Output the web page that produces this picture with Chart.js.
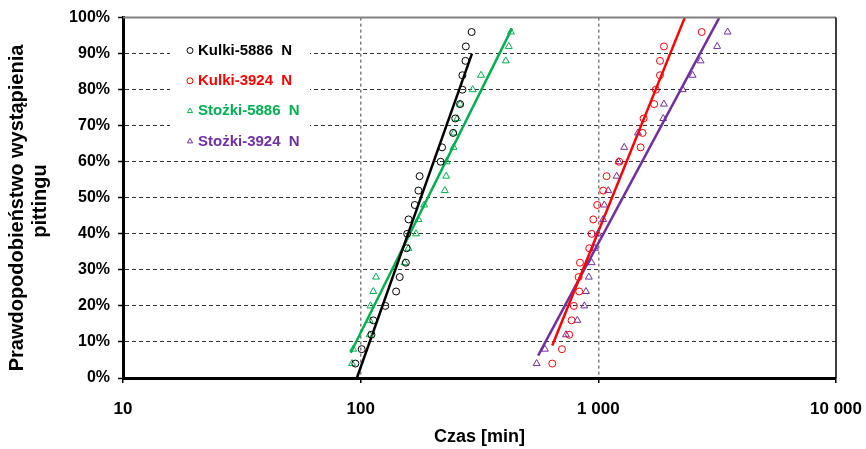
<!DOCTYPE html>
<html>
<head>
<meta charset="utf-8">
<script src="https://cdn.jsdelivr.net/npm/chart.js@4.4.1/dist/chart.umd.min.js"></script>
<style>
    html, body { margin: 0; padding: 0; background: #fff; }
</style>
</head>
<body>
<canvas id="chart" width="866" height="449"></canvas>
<script>
// prawdopodobieństwo (%) - wspólne dla wszystkich serii
const PROBS = [4, 8, 12, 16, 20, 24, 28, 32, 36, 40, 44, 48, 52, 56, 60, 64, 68, 72, 76, 80, 84, 88, 92, 96]

// czasy do wystąpienia pittingu [min]
const KULKI_5886 = [95, 101, 111, 113, 127, 141, 146, 155, 156, 157, 159, 169, 175, 177, 217, 220, 245, 250, 262, 268, 268, 276, 277, 293]
const KULKI_3924 = [640, 703, 754, 772, 789, 831, 826, 837, 916, 937, 952, 989, 1048, 1083, 1225, 1506, 1535, 1550, 1718, 1746, 1817, 1817, 1888, 2722]
const STOZKI_5886 = [92, 93, 109, 109, 110, 113, 116, 153, 159, 171, 175, 185, 226, 229, 230, 246, 247, 255, 262, 296, 321, 408, 420, 429]
const STOZKI_3924 = [550, 596, 731, 816, 873, 887, 912, 937, 968, 995, 1048, 1060, 1101, 1194, 1217, 1285, 1468, 1875, 1888, 2265, 2493, 2693, 3162, 3500]

// linie trendu: [czas, %] początek i koniec
const TREND_KULKI_5886 = [[96.4, 0], [294, 90]]
const TREND_KULKI_3924 = [[640, 9], [2310, 100]]
const TREND_STOZKI_5886 = [[90.8, 7], [433, 97]]
const TREND_STOZKI_3924 = [[558, 6.2], [3228, 100]]

const X_TICKS = [10, 100, 1000, 10000]

const LABELS = ['Kulki-5886  N', 'Kulki-3924  N', 'Stożki-5886  N', 'Stożki-3924  N']
const COLORS = ['#000000', '#FF0000', '#00B050', '#7030A0']
const Y_TITLE = ['Prawdopodobieństwo wystąpienia', 'pittingu']

const FONT = "'Liberation Sans', Arial, sans-serif"

function toPoints(times) {
    return times.map((t, i) => ({ x: t, y: PROBS[i] }))
}

function pointSet(label, times, color, style) {
    return {
        type: 'scatter',
        label: label,
        data: toPoints(times),
        borderColor: color,
        backgroundColor: 'transparent',
        pointStyle: style,
        pointRadius: style == 'triangle' ? 4 : 3.5,
        borderWidth: 1,
        inLegend: true
    }
}

function trendSet(line, color) {
    return {
        type: 'line',
        data: line.map(p => ({ x: p[0], y: p[1] })),
        borderColor: color,
        borderWidth: 2.5,
        pointRadius: 0,
        fill: false
    }
}

function formatThousands(v) {
    return String(v).replace(/\B(?=(\d{3})+(?!\d))/g, ' ')
}

// ramka: góra i prawa strona obszaru wykresu, tytuł osi Y i legenda w środku
const framePlugin = {
    id: 'frame',
    afterDraw(chart) {
        const { ctx, chartArea } = chart
        ctx.save()
        ctx.strokeStyle = '#808080'
        ctx.lineWidth = 2
        ctx.beginPath()
        ctx.moveTo(chartArea.left, chartArea.top)
        ctx.lineTo(chartArea.right, chartArea.top)
        ctx.stroke()
        ctx.strokeStyle = '#000'
        ctx.lineWidth = 1.5
        ctx.beginPath()
        ctx.moveTo(chartArea.right, chartArea.top)
        ctx.lineTo(chartArea.right, chartArea.bottom)
        ctx.stroke()

        // tytuł osi Y (dwie linie, obrócony)
        ctx.fillStyle = '#000'
        ctx.font = 'bold 20px ' + FONT
        ctx.textAlign = 'center'
        ctx.textBaseline = 'middle'
        const titlePos = [[17, 208], [40, 201]]
        Y_TITLE.forEach((line, idx) => {
            ctx.save()
            ctx.translate(titlePos[idx][0], titlePos[idx][1])
            ctx.rotate(-Math.PI / 2)
            ctx.fillText(line, 0, 0)
            ctx.restore()
        })

        // legenda
        ctx.fillStyle = '#fff'
        ctx.fillRect(170, 36, 140, 120)
        const sets = chart.data.datasets.filter(ds => ds.inLegend)
        sets.forEach((ds, idx) => {
            const y = 50.5 + idx * 30.3
            ctx.strokeStyle = ds.borderColor
            ctx.fillStyle = 'rgba(0,0,0,0)'
            ctx.lineWidth = 1
            Chart.helpers.drawPoint(ctx, { pointStyle: ds.pointStyle, radius: 3, borderWidth: 1, rotation: 0 }, 190, y)
            ctx.fillStyle = ds.borderColor
            ctx.font = 'bold 15px ' + FONT
            ctx.textBaseline = 'middle'
            ctx.textAlign = 'left'
            ctx.fillText(ds.label, 198, y)
        })
        ctx.restore()
    }
}

const chart = new Chart(document.getElementById('chart'), {
    type: 'scatter',
    data: {
        datasets: [
            pointSet(LABELS[0], KULKI_5886, COLORS[0], 'circle'),
            pointSet(LABELS[1], KULKI_3924, COLORS[1], 'circle'),
            pointSet(LABELS[2], STOZKI_5886, COLORS[2], 'triangle'),
            pointSet(LABELS[3], STOZKI_3924, COLORS[3], 'triangle'),
            trendSet(TREND_KULKI_5886, COLORS[0]),
            trendSet(TREND_KULKI_3924, COLORS[1]),
            trendSet(TREND_STOZKI_5886, COLORS[2]),
            trendSet(TREND_STOZKI_3924, COLORS[3])
        ]
    },
    options: {
        responsive: false,
        animation: false,
        devicePixelRatio: 1,
        layout: { padding: { left: 0, right: 30, top: 15, bottom: 0 } },
        plugins: {
            legend: { display: false },
            tooltip: { enabled: false }
        },
        scales: {
            x: {
                type: 'logarithmic',
                position: 'bottom',
                min: 10,
                max: 10000,
                afterBuildTicks: (scale) => {
                    scale.ticks = X_TICKS.map(v => ({ value: v }))
                },
                afterFit: (scale) => {
                    scale.height = 71
                    scale.paddingLeft = 0
                    scale.paddingRight = 0
                },
                ticks: {
                    autoSkip: false,
                    maxRotation: 0,
                    padding: 16,
                    color: '#000',
                    font: { family: FONT, size: 17, weight: 'bold' },
                    callback: (v) => formatThousands(v)
                },
                grid: {
                    color: (c) => (c.tick && (c.tick.value == 10 || c.tick.value == 10000)) ? 'rgba(0,0,0,0)' : '#7f7f7f',
                    lineWidth: 1.5,
                    tickColor: '#000',
                    tickLength: 5,
                    tickWidth: 1.5
                },
                border: { display: true, color: '#000', width: 3, dash: [3, 3] },
                title: {
                    display: true,
                    text: 'Czas [min]',
                    color: '#000',
                    font: { family: FONT, size: 18, weight: 'bold' },
                    padding: { top: 4, bottom: 1 }
                }
            },
            y: {
                type: 'linear',
                min: 0,
                max: 100,
                afterFit: (scale) => { scale.width = 123 },
                ticks: {
                    stepSize: 10,
                    padding: 8,
                    color: '#000',
                    font: { family: FONT, size: 16, weight: 'bold' },
                    callback: (v) => v + '%'
                },
                grid: {
                    color: (c) => (c.tick && (c.tick.value == 0 || c.tick.value == 100)) ? 'rgba(0,0,0,0)' : '#333',
                    lineWidth: 1,
                    tickColor: '#000',
                    tickLength: 5,
                    tickWidth: 1.5
                },
                border: { display: true, color: '#000', width: 3, dash: [4, 3] },
                title: { display: false }
            }
        }
    },
    plugins: [framePlugin]
})
</script>
</body>
</html>
